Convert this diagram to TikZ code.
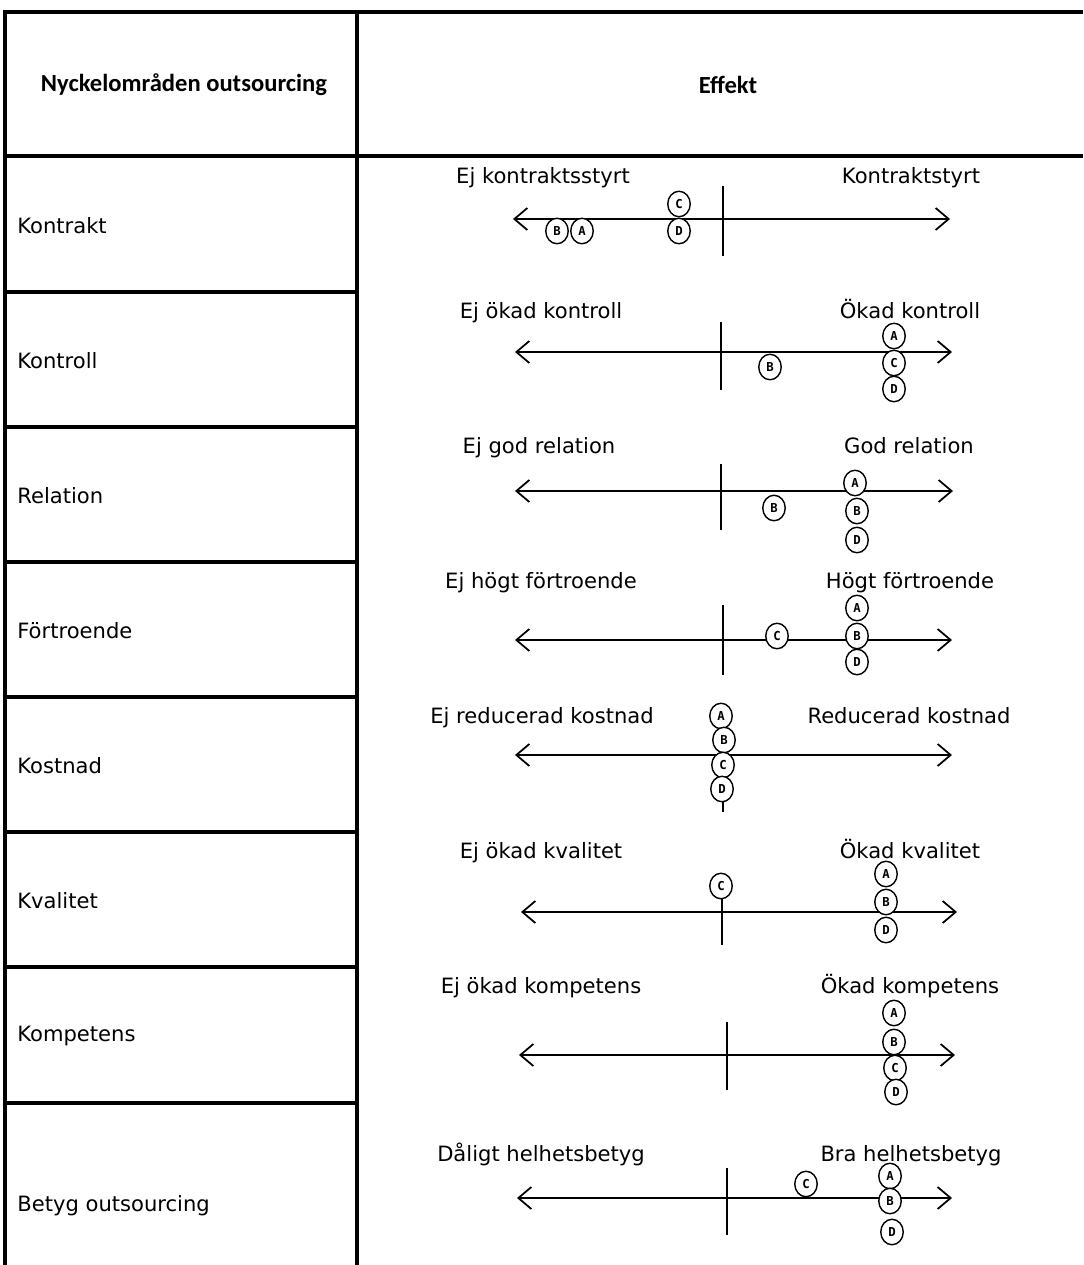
\documentclass[tikz,border=0pt]{standalone}
\usepackage{fontspec}
\setmainfont{DejaVu Sans}
\newfontfamily\rubrik{Carlito}
\newfontfamily\bokstav{DejaVu Sans Mono}
\usetikzlibrary{arrows.meta,shapes.geometric}

\begin{document}
\begin{tikzpicture}[x=0.02cm,y=-0.02cm,
  linje/.style={line width=2.2pt},
  axel/.style={line width=1.2pt,{Straight Barb[length=2.6mm,width=4.4mm,line width=1pt]}-{Straight Barb[length=2.6mm,width=4.4mm,line width=1pt]}},
  mitt/.style={line width=1.2pt},
  omrade/.style={anchor=west,inner sep=0pt,font=\fontsize{12}{14}\selectfont},
  pol/.style={anchor=base,inner sep=0pt,font=\fontsize{12}{14}\selectfont},
  svar/.style={ellipse,draw,line width=0.8pt,fill=white,inner sep=0pt,minimum width=0.45cm,minimum height=0.51cm,font=\bokstav\bfseries\fontsize{7}{8}\selectfont}]
\useasboundingbox (0,0) rectangle (1083,1265);

% tabellen
\draw[linje] (1083,12) -- (5,12) -- (5,1265);
\draw[linje] (357,12) -- (357,1265);
\draw[linje] (5,156) -- (1083,156);
\draw[linje] (5,292) -- (357,292);
\draw[linje] (5,427) -- (357,427);
\draw[linje] (5,562) -- (357,562);
\draw[linje] (5,697) -- (357,697);
\draw[linje] (5,832) -- (357,832);
\draw[linje] (5,967) -- (357,967);
\draw[linje] (5,1103) -- (357,1103);

\node[font=\rubrik\bfseries\fontsize{14}{16}\selectfont] (h1) at (184,85) {Nyckelområden outsourcing};
\node[font=\rubrik\bfseries\fontsize{14}{16}\selectfont] (h2) at (728,85) {Effekt};

\node[omrade] (r1) at (17,226) {Kontrakt};
\node[omrade] (r2) at (17,361) {Kontroll};
\node[omrade] (r3) at (17,496) {Relation};
\node[omrade] (r4) at (17,631) {Förtroende};
\node[omrade] (r5) at (17,766) {Kostnad};
\node[omrade] (r6) at (17,901) {Kvalitet};
\node[omrade] (r7) at (17,1036) {Kompetens};
\node[omrade] (r8) at (17,1206) {Betyg outsourcing};

% Kontrakt
\node[pol] (v1) at (543,183) {Ej kontraktsstyrt};
\node[pol] (h1) at (911,183) {Kontraktstyrt};
\coordinate (a1v) at (513,219); \coordinate (a1h) at (950,219);
\coordinate (m1o) at (723,186); \coordinate (m1n) at (723,256);
\draw[axel] (a1v) -- (a1h);
\draw[mitt] (m1o) -- (m1n);
\node[svar] (k1b) at (557,231) {B};
\node[svar] (k1a) at (582,231) {A};
\node[svar] (k1c) at (679,204) {C};
\node[svar] (k1d) at (679,231) {D};

% Kontroll
\node[pol] (v2) at (541,318) {Ej ökad kontroll};
\node[pol] (h2) at (910,318) {Ökad kontroll};
\coordinate (a2v) at (515,352); \coordinate (a2h) at (952,352);
\coordinate (m2o) at (721,322); \coordinate (m2n) at (721,390);
\draw[axel] (a2v) -- (a2h);
\draw[mitt] (m2o) -- (m2n);
\node[svar] (k2b) at (770,367) {B};
\node[svar] (k2a) at (894,336) {A};
\node[svar] (k2c) at (894,363) {C};
\node[svar] (k2d) at (894,389) {D};

% Relation
\node[pol] (v3) at (539,453) {Ej god relation};
\node[pol] (h3) at (909,453) {God relation};
\coordinate (a3v) at (515,491); \coordinate (a3h) at (953,491);
\coordinate (m3o) at (721,464); \coordinate (m3n) at (721,530);
\draw[axel] (a3v) -- (a3h);
\draw[mitt] (m3o) -- (m3n);
\node[svar] (k3x) at (774,508) {B};
\node[svar] (k3a) at (855,483) {A};
\node[svar] (k3b) at (857,511) {B};
\node[svar] (k3d) at (857,540) {D};

% Förtroende
\node[pol] (v4) at (541,588) {Ej högt förtroende};
\node[pol] (h4) at (910,588) {Högt förtroende};
\coordinate (a4v) at (515,640); \coordinate (a4h) at (952,640);
\coordinate (m4o) at (723,605); \coordinate (m4n) at (723,675);
\draw[axel] (a4v) -- (a4h);
\draw[mitt] (m4o) -- (m4n);
\node[svar] (k4c) at (777,636) {C};
\node[svar] (k4a) at (857,608) {A};
\node[svar] (k4b) at (857,636) {B};
\node[svar] (k4d) at (857,662) {D};

% Kostnad
\node[pol] (v5) at (542,723) {Ej reducerad kostnad};
\node[pol] (h5) at (909,723) {Reducerad kostnad};
\coordinate (a5v) at (515,755); \coordinate (a5h) at (952,755);
\coordinate (m5o) at (723,720); \coordinate (m5n) at (723,812);
\draw[axel] (a5v) -- (a5h);
\draw[mitt] (m5o) -- (m5n);
\node[svar] (k5a) at (721,716) {A};
\node[svar] (k5b) at (724,740) {B};
\node[svar] (k5c) at (723,765) {C};
\node[svar] (k5d) at (722,789) {D};

% Kvalitet
\node[pol] (v6) at (541,858) {Ej ökad kvalitet};
\node[pol] (h6) at (910,858) {Ökad kvalitet};
\coordinate (a6v) at (521,912); \coordinate (a6h) at (957,912);
\coordinate (m6o) at (722,886); \coordinate (m6n) at (722,945);
\draw[axel] (a6v) -- (a6h);
\draw[mitt] (m6o) -- (m6n);
\node[svar] (k6c) at (721,886) {C};
\node[svar] (k6a) at (886,874) {A};
\node[svar] (k6b) at (886,902) {B};
\node[svar] (k6d) at (886,930) {D};

% Kompetens
\node[pol] (v7) at (541,993) {Ej ökad kompetens};
\node[pol] (h7) at (910,993) {Ökad kompetens};
\coordinate (a7v) at (519,1055); \coordinate (a7h) at (955,1055);
\coordinate (m7o) at (727,1022); \coordinate (m7n) at (727,1090);
\draw[axel] (a7v) -- (a7h);
\draw[mitt] (m7o) -- (m7n);
\node[svar] (k7a) at (894,1013) {A};
\node[svar] (k7b) at (894,1042) {B};
\node[svar] (k7c) at (895,1068) {C};
\node[svar] (k7d) at (896,1092) {D};

% Betyg outsourcing
\node[pol] (v8) at (541,1161) {Dåligt helhetsbetyg};
\node[pol] (h8) at (911,1161) {Bra helhetsbetyg};
\coordinate (a8v) at (517,1198); \coordinate (a8h) at (952,1198);
\coordinate (m8o) at (727,1168); \coordinate (m8n) at (727,1235);
\draw[axel] (a8v) -- (a8h);
\draw[mitt] (m8o) -- (m8n);
\node[svar] (k8c) at (806,1184) {C};
\node[svar] (k8a) at (890,1176) {A};
\node[svar] (k8b) at (890,1201) {B};
\node[svar] (k8d) at (892,1232) {D};
\end{tikzpicture}
\end{document}
